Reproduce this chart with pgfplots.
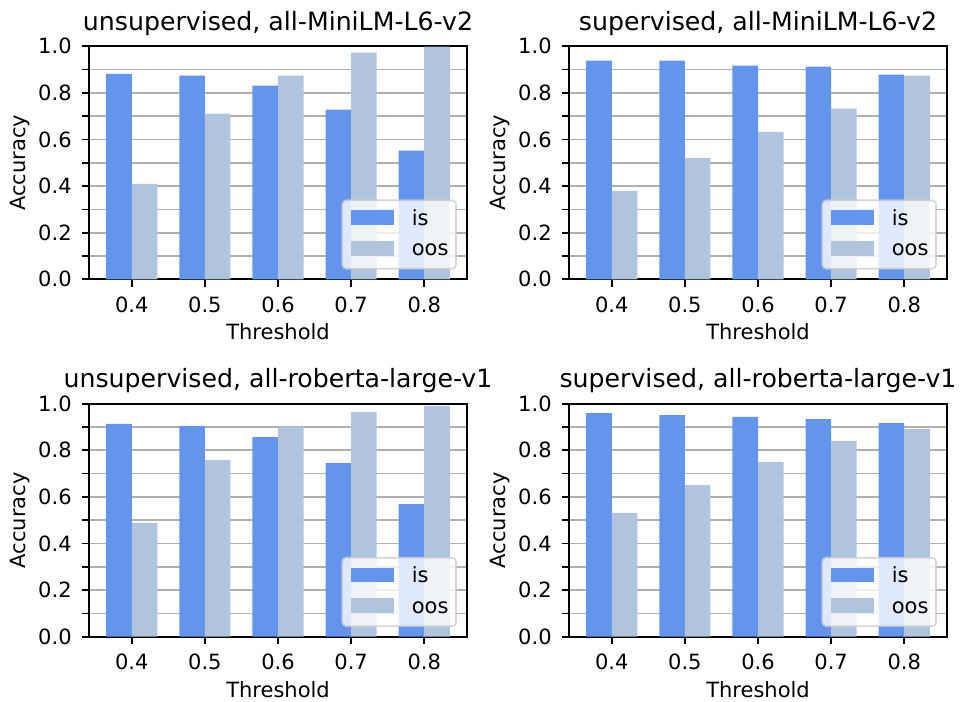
\documentclass[border=0pt]{standalone}
\usepackage{pgfplots}
\pgfplotsset{compat=1.18}
\usepackage{fontspec}
\setmainfont{DejaVu Sans}

\definecolor{isblue}{HTML}{6495ED}
\definecolor{oosblue}{HTML}{B0C4DE}
\definecolor{gridgray}{HTML}{B0B0B0}
\definecolor{legframe}{HTML}{CCCCCC}

\pgfplotsset{
  accaxis/.style={
    scale only axis, width=189pt, height=116.5pt,
    anchor=south west,
    xmin=-0.585, xmax=4.585, ymin=0, ymax=1,
    xtick={0,1,2,3,4}, xticklabels={0.4,0.5,0.6,0.7,0.8},
    ytick={0,0.2,0.4,0.6,0.8,1.0}, yticklabels={0.0,0.2,0.4,0.6,0.8,1.0},
    minor ytick={0.1,0.3,0.5,0.7,0.9},
    ymajorgrids, yminorgrids,
    major grid style={draw=gridgray, line width=0.83pt},
    minor grid style={draw=gridgray, line width=0.83pt},
    tick pos=left, tick align=outside,
    major tick length=3.65pt, minor tick length=3.65pt,
    tick style={black, line width=0.83pt},
    axis line style={black, line width=0.83pt},
    tick label style={font=\fontsize{10.5}{12.6}\selectfont},
    xticklabel style={yshift=-1.65pt},
    yticklabel style={xshift=-1.5pt},
    every axis title/.style={at={(axis description cs:0.5,1)}, anchor=base, yshift=7.95pt,
      font=\fontsize{12.6}{15}\selectfont},
    xlabel={Threshold}, ylabel={Accuracy},
    xlabel style={at={(axis description cs:0.5,0)}, anchor=base, yshift=-30.35pt},
    ylabel style={at={(axis description cs:-0.1667,0.5)}, anchor=base},
  },
  isbar/.style={ybar, bar width=0.35, bar shift=-0.175, fill=isblue, draw=none},
  oosbar/.style={ybar, bar width=0.35, bar shift=0.175, fill=oosblue, draw=none},
}

% legend box in the lower right corner of the named axis
\newcommand{\acclegend}[1]{%
  \draw[legframe, line width=0.83pt, rounded corners=2pt, fill=white, fill opacity=0.8, draw opacity=0.8]
    ([shift={(-62.35pt,5.3pt)}]#1.south east) rectangle ([shift={(-5.5pt,39.5pt)}]#1.south east);
  \fill[isblue] ([shift={(-58pt,27.15pt)}]#1.south east) rectangle ([shift={(-36.5pt,34.5pt)}]#1.south east);
  \fill[oosblue] ([shift={(-58pt,11.8pt)}]#1.south east) rectangle ([shift={(-36.5pt,19.15pt)}]#1.south east);
  \node[anchor=base west, inner sep=0pt] at ([shift={(-27.8pt,27pt)}]#1.south east) {is};
  \node[anchor=base west, inner sep=0pt] at ([shift={(-27.8pt,11.65pt)}]#1.south east) {oos};
}

\begin{document}
\begin{tikzpicture}[font=\fontsize{10.5}{12.6}\selectfont]
\useasboundingbox (0,0) rectangle (480.5pt,350.5pt);

% top left
\begin{axis}[accaxis, name=tl, at={(44.5pt,210.85pt)}, title={unsupervised, all-MiniLM-L6-v2}]
  \addplot[isbar] coordinates {(0,0.882) (1,0.874) (2,0.831) (3,0.728) (4,0.552)};
  \addplot[oosbar] coordinates {(0,0.410) (1,0.711) (2,0.874) (3,0.973) (4,0.999)};
\end{axis}
\acclegend{tl}

% top right
\begin{axis}[accaxis, name=tr, at={(284.5pt,210.85pt)}, title={supervised, all-MiniLM-L6-v2}]
  \addplot[isbar] coordinates {(0,0.938) (1,0.938) (2,0.917) (3,0.913) (4,0.878)};
  \addplot[oosbar] coordinates {(0,0.380) (1,0.521) (2,0.633) (3,0.732) (4,0.874)};
\end{axis}
\acclegend{tr}

% bottom left
\begin{axis}[accaxis, name=bl, at={(44.5pt,32.15pt)}, title={unsupervised, all-roberta-large-v1}]
  \addplot[isbar] coordinates {(0,0.913) (1,0.904) (2,0.857) (3,0.745) (4,0.569)};
  \addplot[oosbar] coordinates {(0,0.488) (1,0.758) (2,0.900) (3,0.964) (4,0.990)};
\end{axis}
\acclegend{bl}

% bottom right
\begin{axis}[accaxis, name=br, at={(284.5pt,32.15pt)}, title={supervised, all-roberta-large-v1}]
  \addplot[isbar] coordinates {(0,0.960) (1,0.951) (2,0.943) (3,0.934) (4,0.917)};
  \addplot[oosbar] coordinates {(0,0.531) (1,0.651) (2,0.750) (3,0.840) (4,0.891)};
\end{axis}
\acclegend{br}
\end{tikzpicture}
\end{document}
